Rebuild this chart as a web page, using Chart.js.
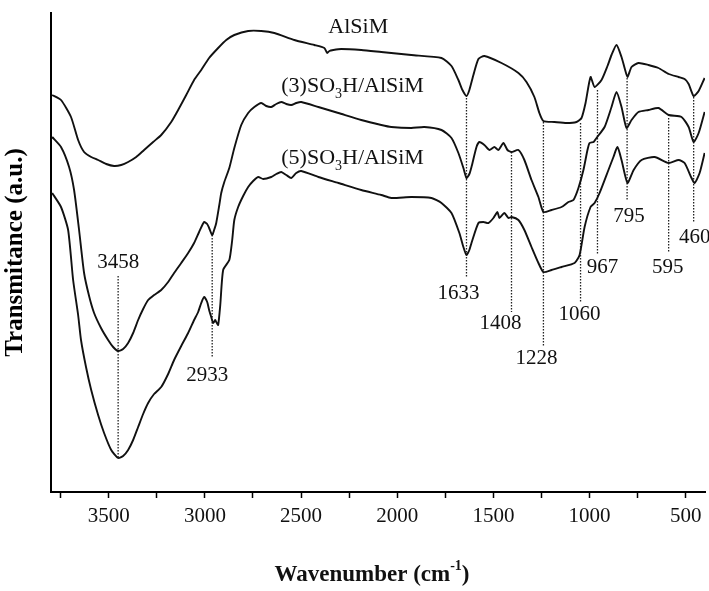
<!DOCTYPE html>
<html>
<head>
<meta charset="utf-8">
<script src="https://cdn.jsdelivr.net/npm/chart.js@4.4.1/dist/chart.umd.min.js"></script>
<style>
  html, body { margin: 0; padding: 0; background: #fff; }
  #wrap { width: 709px; height: 591px; }
</style>
</head>
<body>
<div id="wrap"><canvas id="ftir" width="709" height="591"></canvas></div>
<script>
const SERIF = '"Liberation Serif", "DejaVu Serif", serif';

// ---- spectra: wavenumber (cm-1) / transmittance (a.u.) ----
const alsimWn = [3794,3748,3696,3659,3628,3591,3555,3513,3472,3435,3399,3357,3316,3269,3227,3175,3139,3097,3056,3019,
  2978,2931,2889,2847,2775,2707,2639,2535,2431,2379,2364,2353,2332,2291,2187,2083,1927,1770,1718,1682,
  1661,1640,1625,1604,1578,1547,1458,1370,1328,1287,1261,1240,1183,1120,1068,1042,1021,995,974,938,
  907,886,860,834,818,803,782,746,694,642,589,537,506,485,459,433,402];
const alsimT = [397,392,375,352,340,335,332,328,326,327,330,335,342,350,357,370,382,397,412,422,
  434,444,452,457,461,461,459,452,447,444,439,441,442,443,442,440,437,434,426,412,
  402,396,402,417,433,436,429,419,410,395,379,371,370,369,370,374,389,415,405,412,
  426,437,447,435,424,415,425,429,427,424,418,415,413,408,396,401,414];

const so3Wn = [3794,3748,3706,3680,3654,3628,3602,3576,3540,3503,3477,3451,3425,3399,3373,3347,3321,3295,3264,3227,
  3191,3160,3123,3087,3056,3030,3004,2988,2978,2962,2952,2941,2925,2915,2899,2873,2847,2811,2775,2743,
  2707,2681,2655,2629,2603,2577,2551,2525,2499,2410,2306,2187,2083,2031,1927,1859,1770,1718,1682,1656,
  1640,1625,1614,1588,1573,1547,1521,1495,1474,1448,1427,1406,1370,1339,1302,1266,1240,1198,1146,1110,
  1084,1058,1032,1011,1000,979,964,922,886,860,834,808,782,746,694,642,589,522,485,459,433,402];
const so3T = [355,345,325,302,262,219,196,179,164,152,145,141,143,149,159,172,183,192,197,202,
  210,219,229,239,249,260,270,268,264,257,262,269,287,299,310,324,344,367,379,385,
  389,386,385,388,390,388,387,389,390,385,379,372,367,365,364,365,362,354,339,324,
  314,318,325,345,350,347,342,345,342,349,342,340,342,332,312,295,280,282,285,290,
  292,304,322,342,349,350,354,365,385,400,385,364,372,380,382,384,377,375,365,350,359,380];

const so5Wn = [3794,3748,3711,3685,3659,3644,3618,3591,3555,3524,3487,3451,3425,3399,3373,3347,3321,3295,3264,3227,
  3191,3160,3123,3087,3056,3035,3019,3004,2988,2978,2967,2957,2946,2941,2931,2920,2905,2873,2858,2847,
  2827,2801,2775,2749,2723,2697,2655,2629,2603,2577,2551,2525,2499,2410,2306,2187,2083,2031,1927,1822,
  1770,1718,1677,1656,1640,1625,1614,1578,1552,1526,1500,1479,1469,1443,1422,1406,1370,1339,1302,1266,
  1240,1198,1146,1078,1052,1026,995,974,948,902,876,855,834,803,771,730,662,589,537,506,470,454,428,402];
const so5T = [299,285,262,212,177,152,125,102,77,59,42,34,36,42,52,65,78,89,98,105,
  118,132,146,159,172,180,189,195,190,182,175,169,172,170,167,187,222,232,252,272,
  285,296,305,311,315,313,315,318,320,317,314,319,321,315,309,302,297,294,295,294,
  289,279,259,245,237,242,249,269,270,269,274,280,274,279,274,275,272,262,245,229,
  220,222,225,229,237,265,285,289,299,322,335,345,332,309,322,332,335,329,332,329,314,309,319,339];

const seriesNames = [['AlSiM'], ['(3)SO', '3', 'H/AlSiM'], ['(5)SO', '3', 'H/AlSiM']];

// ---- band markers: label, position, vertical extent of the dotted line ----
const peakLabels = ['3458', '2933', '1633', '1408', '1228', '1060', '967', '795', '595', '460'];
const peakWn     = [3451, 2962, 1640, 1406, 1240, 1047, 959, 805, 589, 459];
const peakTop    = [216, 257, 397, 340, 370, 369, 402, 414, 374, 395];
const peakBottom = [34, 134, 214, 180, 145, 189, 237, 292, 239, 269];

const xMajor = [3500, 3000, 2500, 2000, 1500, 1000, 500];
const xMinor = [3750, 3250, 2750, 2250, 1750, 1250, 750];

// label placement (pixels): dy from line end, dx from line, label above line?
const peakLabelPos = [
  { above: true, dx: 0, dy: 14 }, { dx: -5, dy: 17 }, { dx: -8, dy: 15 }, { dx: -11, dy: 11 },
  { dx: -7, dy: 11 }, { dx: -1, dy: 11 }, { dx: 5, dy: 12 }, { dx: 2, dy: 16 },
  { dx: -1, dy: 14 }, { dx: 1, dy: 14 },
];
// series label anchors (data coords: wavenumber of left edge, baseline)
const seriesNamePos = [{ x: 2358, y: 459 }, { x: 2603, y: 400 }, { x: 2603, y: 328 }];

function zip(wn, t) {
  return wn.map((w, i) => ({ x: w, y: t[i] }));
}

function curve(wn, t) {
  return {
    data: zip(wn, t),
    showLine: true,
    borderColor: '#111',
    borderWidth: 1.9,
    pointRadius: 0,
    tension: 0.2,
  };
}

const markerSets = peakWn.map((w, i) => ({
  data: [{ x: w, y: peakTop[i] }, { x: w, y: peakBottom[i] }],
  showLine: true,
  borderColor: '#222',
  borderWidth: 1.3,
  borderDash: [1.5, 1.5],
  pointRadius: 0,
  tension: 0,
}));

// draws peak numbers, curve names (with subscript) and x title (with superscript)
const annotatePlugin = {
  id: 'annotate',
  afterDatasetsDraw(chart) {
    const { ctx, scales: { x, y } } = chart;
    ctx.save();
    ctx.fillStyle = '#111';
    ctx.textBaseline = 'middle';
    ctx.textAlign = 'center';
    ctx.font = '21px ' + SERIF;
    peakLabels.forEach((t, i) => {
      const p = peakLabelPos[i];
      const px = x.getPixelForValue(peakWn[i]) + p.dx;
      const py = p.above ? y.getPixelForValue(peakTop[i]) - p.dy
                         : y.getPixelForValue(peakBottom[i]) + p.dy;
      ctx.fillText(t, px, py);
    });

    ctx.textAlign = 'left';
    ctx.textBaseline = 'alphabetic';
    seriesNames.forEach((parts, i) => {
      let px = x.getPixelForValue(seriesNamePos[i].x);
      const py = y.getPixelForValue(seriesNamePos[i].y);
      parts.forEach((s, k) => {
        const sub = k % 2 === 1;
        ctx.font = (sub ? '14px ' : '22px ') + SERIF;
        ctx.fillText(s, px, py + (sub ? 6 : 0));
        px += ctx.measureText(s).width;
      });
    });

    // x axis title
    const big = 'bold 23px ' + SERIF, small = 'bold 14px ' + SERIF;
    const a = 'Wavenumber (cm', b = '-1', c = ')';
    ctx.font = big; const wa = ctx.measureText(a).width, wc = ctx.measureText(c).width;
    ctx.font = small; const wb = ctx.measureText(b).width;
    let tx = (chart.chartArea.left + chart.chartArea.right) / 2 - 6 - (wa + wb + wc) / 2;
    const ty = 581;
    ctx.font = big; ctx.fillText(a, tx, ty); tx += wa;
    ctx.font = small; ctx.fillText(b, tx, ty - 11); tx += wb;
    ctx.font = big; ctx.fillText(c, tx, ty);
    ctx.restore();
  },
};

new Chart(document.getElementById('ftir').getContext('2d'), {
  type: 'scatter',
  data: { datasets: [curve(alsimWn, alsimT), curve(so3Wn, so3T), curve(so5Wn, so5T), ...markerSets] },
  plugins: [annotatePlugin],
  options: {
    responsive: false,
    animation: false,
    events: [],
    layout: { padding: { top: 13, right: 4, left: 0, bottom: 0 } },
    plugins: { legend: { display: false }, tooltip: { enabled: false } },
    scales: {
      x: {
        type: 'linear', reverse: true, min: 400, max: 3800,
        afterFit(s) { s.height = 99; },
        afterBuildTicks(s) {
          s.ticks = [...xMajor, ...xMinor].sort((p, q) => q - p).map(v => ({ value: v }));
        },
        ticks: {
          autoSkip: false, maxRotation: 0, padding: 6, color: '#111',
          font: { family: SERIF, size: 21 },
          callback: v => (xMajor.includes(v) ? String(v) : ''),
        },
        grid: { display: true, drawOnChartArea: false, drawTicks: true, tickLength: 6, tickColor: '#000', tickWidth: 1.5 },
        border: { display: true, color: '#000', width: 2 },
      },
      y: {
        min: 0, max: 479,
        afterFit(s) { s.width = 51; },
        ticks: { display: false },
        grid: { display: false },
        border: { display: true, color: '#000', width: 2 },
        title: {
          display: true, text: 'Transmitance (a.u.)', color: '#000',
          font: { family: SERIF, size: 25, weight: 'bold' }, padding: { top: 1, bottom: 0 },
        },
      },
    },
  },
});
</script>
</body>
</html>
